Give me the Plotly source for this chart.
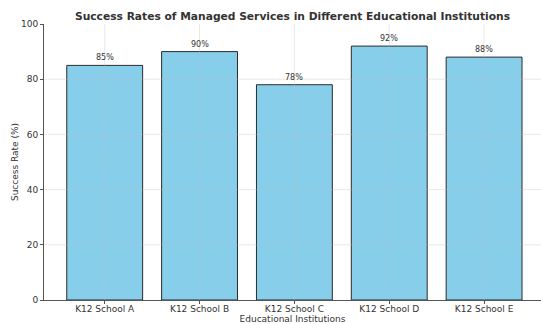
import plotly.graph_objects as go

categories = ["K12 School A", "K12 School B", "K12 School C", "K12 School D", "K12 School E"]
success_rates = [85, 90, 78, 92, 88]
labels = [f"{v}%" for v in success_rates]
y_ticks = [0, 20, 40, 60, 80, 100]

fig = go.Figure()
fig.add_trace(go.Bar(
    x=categories, y=success_rates,
    marker=dict(color="#87CEEB", line=dict(color="#2b2b2b", width=1)),
    width=0.8,
))

# value labels just above each bar
for c, v, t in zip(categories, success_rates, labels):
    fig.add_annotation(x=c, y=v, text=t, showarrow=False, yanchor="bottom",
                       yshift=1, font=dict(size=8, color="#333333", family="DejaVu Sans"))

# light grid lines drawn over the bars (as in the reference)
grid_color = "rgba(190,190,190,0.35)"
for yv in y_ticks[1:-1]:
    fig.add_shape(type="line", xref="x domain", yref="y", x0=0, x1=1, y0=yv, y1=yv,
                  line=dict(color=grid_color, width=1), layer="above")
for c in categories:
    fig.add_shape(type="line", xref="x", yref="y domain", x0=c, x1=c, y0=0, y1=1,
                  line=dict(color=grid_color, width=1), layer="above")

fig.update_layout(
    width=541, height=324,
    margin=dict(l=44, r=0, t=24, b=24),
    plot_bgcolor="white", paper_bgcolor="white",
    font=dict(family="DejaVu Sans", size=9, color="#333333"),
    title=dict(text="<b>Success Rates of Managed Services in Different Educational Institutions</b>",
               x=0.5, xref="paper", xanchor="center", y=1 - 16 / 324, yanchor="middle",
               font=dict(size=10.7, color="#333333")),
    showlegend=False,
)
fig.update_xaxes(
    range=[-0.64, 4.6], automargin=False,
    showline=True, linecolor="#555555", linewidth=1,
    ticks="outside", ticklen=3, tickcolor="#555555",
    ticklabelstandoff=-3,
    showgrid=False,
    title=dict(text="Educational Institutions", standoff=3, font=dict(size=9)),
    tickfont=dict(size=9),
)
fig.update_yaxes(
    range=[0, 100], tickvals=y_ticks, automargin=False,
    showline=True, linecolor="#555555", linewidth=1,
    ticks="outside", ticklen=3, tickcolor="#555555",
    showgrid=False, zeroline=False,
    title=dict(text="Success Rate (%)", standoff=0, font=dict(size=9)),
    tickfont=dict(size=9),
)

fig.write_html("out.html", config={"displayModeBar": False},
               post_script="document.body.style.margin='0';")
